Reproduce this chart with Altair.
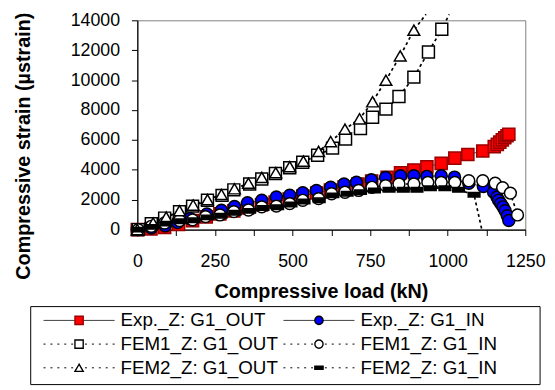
import altair as alt
import pandas as pd

FONT = "Liberation Sans"

series_names = ["Exp._Z: G1_OUT", "Exp._Z: G1_IN", "FEM1_Z: G1_OUT",
                "FEM1_Z: G1_IN", "FEM2_Z: G1_OUT", "FEM2_Z: G1_IN"]
legend_col = [0, 1, 0, 1, 0, 1]
legend_row = [0, 0, 1, 1, 2, 2]

exp_out_load = [0, 44, 88, 133, 178, 222, 266, 311, 355, 400, 444, 489, 533, 578, 622,
                666, 711, 755, 805, 848, 891, 933, 979, 1023, 1065, 1113, 1150, 1160,
                1168, 1176, 1184, 1191, 1197]
exp_out_strain = [0, 50, 150, 350, 600, 850, 1050, 1250, 1450, 1650, 1850, 2050, 2250,
                  2450, 2650, 2850, 3050, 3250, 3500, 3800, 3990, 4200, 4430, 4780, 5020,
                  5260, 5550, 5700, 5850, 6000, 6150, 6280, 6380]

exp_in_load = [0, 45, 90, 130, 170, 224, 271, 313, 355, 401, 448, 491, 533, 577, 623, 666,
               706, 754, 800, 848, 891, 933, 979, 1022, 1068, 1115, 1148, 1159, 1164, 1171,
               1178, 1185, 1192, 1197]
exp_in_strain = [0, 100, 250, 480, 740, 1050, 1290, 1550, 1790, 1960, 2180, 2300, 2470,
                 2620, 2830, 3050, 3160, 3340, 3480, 3600, 3600, 3560, 3600, 3510, 3100,
                 2880, 2500, 2180, 1960, 1740, 1520, 1260, 920, 610]

fem1_out_load = [3, 45, 88, 136, 178, 226, 273, 311, 362, 401, 445, 491, 533, 581, 629,
                 671, 719, 758, 801, 843, 891, 938, 981, 1005]
fem1_out_strain = [0, 390, 770, 1200, 1570, 1960, 2290, 2660, 3050, 3380, 3750, 4140,
                   4510, 4970, 5450, 6060, 6760, 7520, 8060, 8900, 10200, 11880, 13400,
                   14400]

fem1_in_load = [3, 45, 88, 136, 178, 220, 266, 311, 358, 401, 448, 491, 533, 584, 626, 669,
                713, 756, 800, 843, 891, 936, 979, 1023, 1068, 1113, 1153, 1177, 1202, 1225]
fem1_in_strain = [0, 220, 440, 610, 650, 870, 980, 1200, 1310, 1520, 1570, 1740, 1960,
                  2070, 2400, 2500, 2620, 2830, 2940, 3050, 3050, 3160, 3160, 3160, 3270,
                  3270, 3100, 2810, 2440, 980]

fem2_out_load = [0, 51, 93, 136, 180, 226, 271, 313, 358, 401, 446, 491, 535, 584, 623, 669,
                 716, 758, 801, 847, 891, 930]
fem2_out_strain = [0, 440, 830, 1260, 1640, 2000, 2350, 2730, 3100, 3490, 3810, 4210, 4580,
                   5230, 5890, 6720, 7410, 8550, 9990, 11620, 13340, 14400]

fem2_in_load = [0, 48, 92, 138, 182, 226, 270, 315, 362, 405, 452, 495, 537, 586, 630, 676,
                719, 764, 811, 857, 901, 944, 991, 1035, 1085, 1110]
fem2_in_strain = [0, 180, 400, 560, 620, 820, 930, 1130, 1250, 1450, 1500, 1680, 1880,
                  1960, 2290, 2400, 2505, 2616, 2660, 2660, 2660, 2770, 2770, 2660, 2330, 0]

all_series = [
    (exp_out_load, exp_out_strain),
    (exp_in_load, exp_in_strain),
    (fem1_out_load, fem1_out_strain),
    (fem1_in_load, fem1_in_strain),
    (fem2_out_load, fem2_out_strain),
    (fem2_in_load, fem2_in_strain),
]

rows = []
for idx, (name, (loads, strains)) in enumerate(zip(series_names, all_series)):
    n = len(loads)
    for i, (l, s) in enumerate(zip(loads, strains)):
        # last FEM2_IN point (at the axis) and the points above the top are line-only
        marker = not (s > 14000 or (idx == 5 and i == n - 1))
        rows.append({"series": name, "idx": idx, "load": l, "strain": s, "marker": marker})
df = pd.DataFrame(rows)

legend_df = pd.DataFrame({"series": series_names, "col": legend_col, "row": legend_row})

dash_path = "M-1,-0.38H1V0.38H-1Z"
shape_scale = alt.Scale(domain=series_names,
                        range=["square", "circle", "square", "circle", "triangle-up", dash_path])
fill_scale = alt.Scale(domain=series_names,
                       range=["#FF0000", "#0000FF", "white", "white", "white", "black"])
stroke_scale = alt.Scale(domain=series_names,
                         range=["#990000", "black", "black", "black", "black", "black"])
size_scale = alt.Scale(domain=series_names, range=[150, 140, 150, 140, 170, 110])

x_axis = alt.Axis(values=list(range(0, 1251, 125)),
                  labelExpr="datum.value % 250 === 0 ? datum.label : ''",
                  format="d", grid=False, tickSize=6, tickColor="black",
                  domainColor="black", domainWidth=1.2, labelFont=FONT, labelFontSize=18,
                  labelColor="black", labelFlush=False, labelOverlap=False,
                  labelBaseline="alphabetic", labelPadding=31,
                  title="Compressive load (kN)", titleFont=FONT, titleFontSize=20,
                  titleFontWeight="bold", titleColor="black", titleAlign="center",
                  titleBaseline="alphabetic", titleX=186, titleY=69)
y_axis = alt.Axis(values=list(range(0, 14001, 2000)), format="d", grid=False,
                  tickSize=6, tickColor="black", domainColor="black", domainWidth=1.2,
                  labelFont=FONT, labelFontSize=18, labelColor="black", labelFlush=False,
                  labelOverlap=False, labelPadding=12,
                  title="Compressive strain (µstrain)", titleFont=FONT, titleFontSize=20,
                  titleFontWeight="bold", titleColor="black", titleAngle=-90,
                  titleAlign="center", titleBaseline="middle", titleX=-115, titleY=127)

X = alt.X("load:Q", scale=alt.Scale(domain=[0, 1250], nice=False), axis=x_axis)
Y = alt.Y("strain:Q", scale=alt.Scale(domain=[0, 14000], nice=False), axis=y_axis)

base = alt.Chart(df)

exp_lines = base.transform_filter("datum.idx < 2").mark_line(
    color="#404040", strokeWidth=1, clip=False).encode(
    x=X, y=Y, detail="series:N", order="load:Q")

fem_lines = base.transform_filter("datum.idx >= 2").mark_line(
    color="black", strokeWidth=1.7, strokeDash=[3, 3], clip=False).encode(
    x=X, y=Y, detail="series:N", order="load:Q")

points = base.transform_filter("datum.marker").mark_point(
    opacity=1, fillOpacity=1, strokeWidth=1.5).encode(
    x=X, y=Y,
    shape=alt.Shape("series:N", scale=shape_scale, legend=None),
    fill=alt.Fill("series:N", scale=fill_scale, legend=None),
    stroke=alt.Stroke("series:N", scale=stroke_scale, legend=None),
    size=alt.Size("series:N", scale=size_scale, legend=None),
    order=alt.Order("idx:Q"))

main = alt.layer(exp_lines, fem_lines, points)

# ---- legend (own scales) ----
lx = alt.Scale(domain=[0, 1], range=[-59, 184])
ly = alt.Scale(domain=[0, 2], range=[304, 352])
LX = alt.X("col:Q", scale=lx, axis=None)
LY = alt.Y("row:Q", scale=ly, axis=None)

lbase = alt.Chart(legend_df)
box = alt.Chart(pd.DataFrame({"k": [0]})).mark_rect(
    fill="white", stroke="black", strokeWidth=1).encode(
    x=alt.value(-108), x2=alt.value(408), y=alt.value(290), y2=alt.value(369))

leg_solid = lbase.transform_filter("datum.series == 'Exp._Z: G1_OUT' || datum.series == 'Exp._Z: G1_IN'").mark_rule(
    color="#404040", strokeWidth=1, xOffset=-36, x2Offset=36).encode(
    x=LX, x2="col:Q", y=LY)
leg_dash = lbase.transform_filter("datum.series != 'Exp._Z: G1_OUT' && datum.series != 'Exp._Z: G1_IN'").mark_rule(
    color="black", strokeWidth=1, strokeDash=[2, 5], xOffset=-36, x2Offset=36).encode(
    x=LX, x2="col:Q", y=LY)
leg_pts = lbase.mark_point(opacity=1, fillOpacity=1, strokeWidth=1.4, size=70).encode(
    x=LX, y=LY,
    shape=alt.Shape("series:N", scale=shape_scale, legend=None),
    fill=alt.Fill("series:N", scale=fill_scale, legend=None),
    stroke=alt.Stroke("series:N", scale=stroke_scale, legend=None))
leg_txt = lbase.mark_text(align="left", baseline="middle", dx=42, font=FONT,
                          fontSize=19, color="black").encode(
    x=LX, y=LY, text="series:N")

legend = alt.layer(box, leg_solid, leg_dash, leg_pts, leg_txt)

chart = alt.layer(main, legend).resolve_scale(x="independent", y="independent").properties(
    width=393, height=212,
    autosize=alt.AutoSizeParams(type="none"),
    padding={"left": 131, "top": 10, "right": 22, "bottom": 159},
).configure_view(stroke="#808080", strokeWidth=1)

chart.save("out.html", embed_options={"renderer": "svg", "actions": False})
